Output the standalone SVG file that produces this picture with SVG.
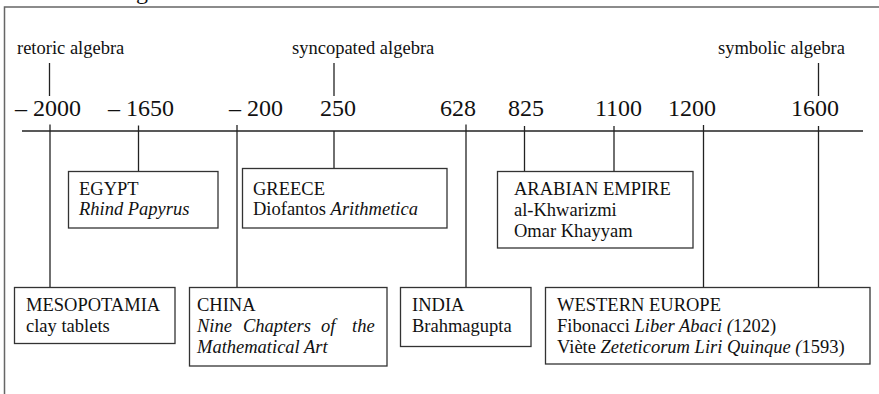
<svg xmlns="http://www.w3.org/2000/svg" width="879" height="394" viewBox="0 0 879 394">
<style>
text{font-family:"Liberation Serif","Times New Roman",serif;fill:#111}
.lbl{font-size:18.5px}
.yr{font-size:24px}
.box rect{fill:#fff;stroke:#333;stroke-width:1.3}
.box text{font-size:18.5px}
.it{font-style:italic}
#connectors line{stroke:#222;stroke-width:1.3}
.frame{stroke:#666;stroke-width:1.5;fill:none}
</style>
<rect width="879" height="394" fill="#fff"/>
<text class="yr" x="136" y="-1">g</text>
<path class="frame" d="M4.5,394 V7 H879"/>
<g id="connectors">
<line x1="22" y1="131" x2="863" y2="131"/>
<line x1="49.5" y1="63" x2="49.5" y2="96"/>
<line x1="334" y1="63" x2="334" y2="96"/>
<line x1="818.5" y1="63" x2="818.5" y2="96"/>
<line x1="50" y1="124.5" x2="50" y2="287"/>
<line x1="138.5" y1="125.5" x2="138.5" y2="171"/>
<line x1="237" y1="125" x2="237" y2="287"/>
<line x1="334" y1="131" x2="334" y2="168"/>
<line x1="466" y1="124.5" x2="466" y2="287"/>
<line x1="524.5" y1="126" x2="524.5" y2="171"/>
<line x1="614" y1="126" x2="614" y2="171"/>
<line x1="703.5" y1="125" x2="703.5" y2="287"/>
<line x1="818.5" y1="126" x2="818.5" y2="287"/>
</g>
<g id="labels">
<text class="lbl" x="17" y="54">retoric algebra</text>
<text class="lbl" x="292" y="54">syncopated algebra</text>
<text class="lbl" x="718" y="54">symbolic algebra</text>
<text class="yr" x="15" y="116">– 2000</text>
<text class="yr" x="108" y="116">– 1650</text>
<text class="yr" x="229" y="116">– 200</text>
<text class="yr" x="320" y="116">250</text>
<text class="yr" x="440" y="116">628</text>
<text class="yr" x="508" y="116">825</text>
<text class="yr" x="595" y="116">1100</text>
<text class="yr" x="668" y="116">1200</text>
<text class="yr" x="791" y="116">1600</text>
</g>
<g id="egypt" class="box">
<rect x="68.5" y="171.5" width="149.5" height="56.5"/>
<text x="79" y="195">EGYPT</text>
<text x="79" y="215" class="it">Rhind Papyrus</text>
</g>
<g id="greece" class="box">
<rect x="242.5" y="168.5" width="204.5" height="59.5"/>
<text x="253" y="195">GREECE</text>
<text x="253" y="215">Diofantos <tspan class="it">Arithmetica</tspan></text>
</g>
<g id="arabia" class="box">
<rect x="497.5" y="171.5" width="195.5" height="76.5"/>
<text x="514" y="195">ARABIAN EMPIRE</text>
<text x="514" y="216">al-Khwarizmi</text>
<text x="514" y="237">Omar Khayyam</text>
</g>
<g id="mesopotamia" class="box">
<rect x="14.5" y="287.5" width="160.5" height="56"/>
<text x="26" y="311">MESOPOTAMIA</text>
<text x="26" y="332">clay tablets</text>
</g>
<g id="china" class="box">
<rect x="189.5" y="287.5" width="197.5" height="78.5"/>
<text x="197" y="311">CHINA</text>
<text y="332" class="it"><tspan x="197">Nine</tspan><tspan x="243">Chapters</tspan><tspan x="321">of</tspan><tspan x="352">the</tspan></text>
<text x="197" y="353" class="it">Mathematical Art</text>
</g>
<g id="india" class="box">
<rect x="400.5" y="287.5" width="130.5" height="59"/>
<text x="412" y="311">INDIA</text>
<text x="412" y="332">Brahmagupta</text>
</g>
<g id="western-europe" class="box">
<rect x="545.5" y="287.5" width="324.5" height="76.5"/>
<text x="557" y="311">WESTERN EUROPE</text>
<text x="557" y="332">Fibonacci <tspan class="it">Liber Abaci (</tspan>1202)</text>
<text x="557" y="353">Viète <tspan class="it">Zeteticorum Liri Quinque (</tspan>1593)</text>
</g>
</svg>
